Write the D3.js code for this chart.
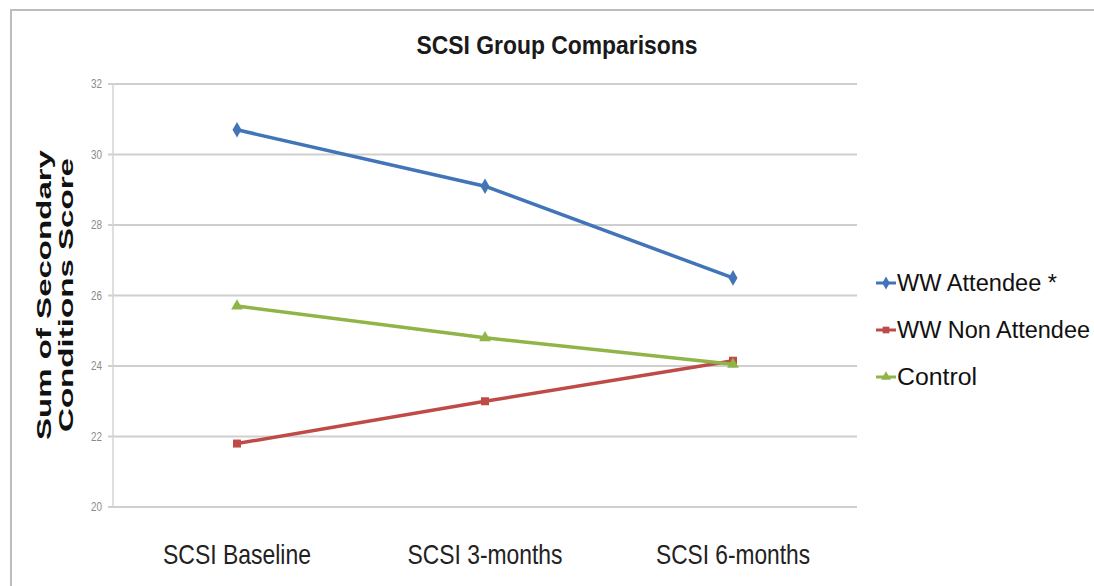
<!DOCTYPE html>
<html>
<head>
<meta charset="utf-8">
<script src="https://cdn.jsdelivr.net/npm/d3@7"></script>
<style>
  html, body { margin: 0; padding: 0; background: #fff; }
  svg { display: block; }
  text { font-family: "Liberation Sans", Arial, sans-serif; }
</style>
</head>
<body>
<svg id="chart" width="1094" height="586"></svg>
<script>
// Chart data
const categories = ["SCSI Baseline", "SCSI 3-months", "SCSI 6-months"];
const seriesNames = ["WW Attendee *", "WW Non Attendee", "Control"];
const attendee    = [30.7, 29.1, 26.5];
const nonAttendee = [21.8, 23.0, 24.15];
const control     = [25.7, 24.8, 24.05];
const yTicks = [20, 22, 24, 26, 28, 30, 32];

const colors = ["#4274B8", "#BE4B48", "#8FB447"];
const symbols = [d3.symbolDiamond, d3.symbolSquare, d3.symbolTriangle];
const symbolSizes = [70, 64, 60];

// condensed text widths (px) for the narrow face
const catWidths = [148, 155, 154];
const legendWidths = [160, 193, 80];

const series = [attendee, nonAttendee, control].map((vals, i) => ({
  name: seriesNames[i],
  values: vals,
  color: colors[i],
  symbol: symbols[i],
  size: symbolSizes[i],
  labelWidth: legendWidths[i]
}));

const svg = d3.select("#chart");

// Outer frame
svg.append("path")
  .attr("d", "M11,1094 L11,10 L1094,10")
  .attr("fill", "none")
  .attr("stroke", "#bdbdbd")
  .attr("stroke-width", 2);

const plot = { left: 113, right: 857, top: 84, bottom: 507 };

const x = d3.scaleBand()
  .domain(categories)
  .range([plot.left, plot.right]);

const y = d3.scaleLinear()
  .domain([20, 32])
  .range([plot.bottom, plot.top]);

// Horizontal gridlines
svg.append("g")
  .selectAll("line")
  .data(yTicks)
  .join("line")
  .attr("x1", plot.left - 5)
  .attr("x2", plot.right)
  .attr("y1", d => y(d))
  .attr("y2", d => y(d))
  .attr("stroke", "#cfcfcf")
  .attr("stroke-width", 2);

// Value axis line
svg.append("line")
  .attr("x1", plot.left).attr("x2", plot.left)
  .attr("y1", plot.top).attr("y2", plot.bottom)
  .attr("stroke", "#d3d3d3")
  .attr("stroke-width", 1.5);

// Y tick labels
const yAxis = d3.axisLeft(y).tickValues(yTicks).tickSize(0).tickPadding(11);
const yg = svg.append("g")
  .attr("transform", `translate(${plot.left},0)`)
  .call(yAxis);
yg.select(".domain").remove();
yg.selectAll("text")
  .attr("font-family", "Liberation Sans, Arial, sans-serif")
  .attr("font-size", 12)
  .attr("textLength", 11)
  .attr("lengthAdjust", "spacingAndGlyphs")
  .attr("fill", "#8a8a8a");

// X category labels
const xAxis = d3.axisBottom(x).tickSize(0);
const xg = svg.append("g")
  .attr("transform", `translate(0,${plot.bottom})`)
  .call(xAxis);
xg.select(".domain").remove();
xg.selectAll("text")
  .attr("font-family", "Liberation Sans, Arial, sans-serif")
  .attr("font-size", 28)
  .attr("y", 57)
  .attr("dy", 0)
  .attr("textLength", (d, i) => catWidths[i])
  .attr("lengthAdjust", "spacingAndGlyphs")
  .attr("fill", "#222");

// Title
svg.append("text")
  .attr("x", 557)
  .attr("y", 54)
  .attr("text-anchor", "middle")
  .attr("font-size", 25)
  .attr("font-weight", "bold")
  .attr("textLength", 281)
  .attr("lengthAdjust", "spacingAndGlyphs")
  .attr("fill", "#1a1a1a")
  .text("SCSI Group Comparisons");

// Y axis title (two lines)
const yTitle = svg.append("text")
  .attr("transform", "translate(51,295) rotate(-90)")
  .attr("text-anchor", "middle")
  .attr("font-size", 21)
  .attr("font-weight", "bold")
  .attr("fill", "#111");
yTitle.append("tspan").attr("x", 0).attr("y", 0)
  .attr("textLength", 290).attr("lengthAdjust", "spacingAndGlyphs")
  .text("Sum of Secondary");
yTitle.append("tspan").attr("x", 0).attr("y", 22)
  .attr("textLength", 274).attr("lengthAdjust", "spacingAndGlyphs")
  .text("Conditions Score");

// Lines and markers
const line = d3.line()
  .x((d, i) => x(categories[i]) + x.bandwidth() / 2)
  .y(d => y(d));

const sg = svg.append("g")
  .selectAll("g")
  .data(series)
  .join("g");

sg.append("path")
  .attr("d", d => line(d.values))
  .attr("fill", "none")
  .attr("stroke", d => d.color)
  .attr("stroke-width", 3.5);

sg.each(function (s) {
  d3.select(this).selectAll("path.marker")
    .data(s.values)
    .join("path")
    .attr("class", "marker")
    .attr("transform", (v, i) => `translate(${x(categories[i]) + x.bandwidth() / 2},${y(v)})`)
    .attr("d", d3.symbol().type(s.symbol).size(s.size))
    .attr("fill", s.color);
});

// Legend
const legend = svg.append("g")
  .selectAll("g")
  .data(series)
  .join("g")
  .attr("transform", (d, i) => `translate(876,${283 + i * 47})`);

legend.append("line")
  .attr("x1", 0).attr("x2", 20)
  .attr("stroke", d => d.color)
  .attr("stroke-width", 3);
legend.append("path")
  .attr("transform", "translate(10,0)")
  .attr("d", d => d3.symbol().type(d.symbol).size(d.size * 0.7)())
  .attr("fill", d => d.color);
legend.append("text")
  .attr("x", 21)
  .attr("y", 0)
  .attr("dy", "0.36em")
  .attr("font-size", 23)
  .attr("textLength", d => d.labelWidth)
  .attr("lengthAdjust", "spacingAndGlyphs")
  .attr("fill", "#111")
  .text(d => d.name);
</script>
</body>
</html>
